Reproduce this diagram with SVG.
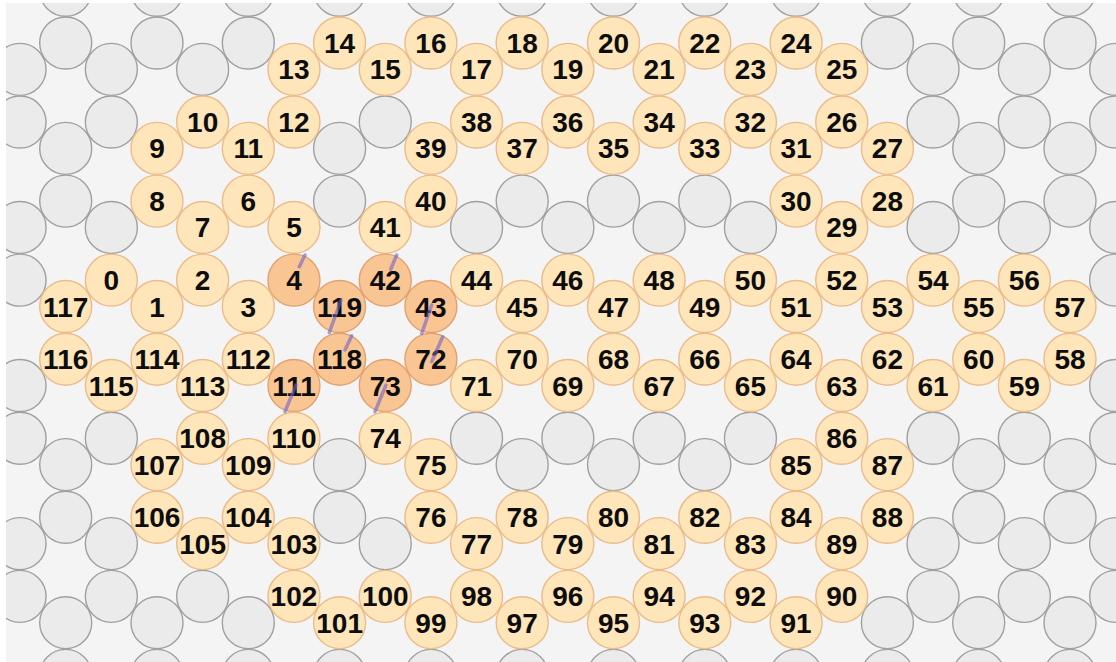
<svg xmlns="http://www.w3.org/2000/svg" width="1116" height="662" viewBox="0 0 1116 662">
<style>
.g{fill:#ebebeb;stroke:#a0a0a0;stroke-width:1.4}
.node circle{fill:#fee6ba;stroke:#ebbb8a;stroke-width:1.4}
.node.hl circle{fill:#f9c592;stroke:#e0a272}
.node text{font-family:"Liberation Sans",Arial,sans-serif;font-weight:bold;font-size:28px;fill:#0d0d0d;text-anchor:middle}
.bond{stroke:#6e62c8;stroke-opacity:0.6;stroke-width:3.5;stroke-linecap:round}
</style>
<defs>
<clipPath id="clip"><rect x="6" y="3" width="1110" height="659"/></clipPath>
</defs>
<rect width="1116" height="662" fill="#ffffff"/>
<g clip-path="url(#clip)">
<rect x="6" y="3" width="1110" height="659" fill="#f4f4f5"/>
<g id="lattice">
<circle class="g" cx="20.05" cy="69.35" r="26"/><circle class="g" cx="20.05" cy="122.05" r="26"/><circle class="g" cx="20.05" cy="227.45" r="26"/><circle class="g" cx="20.05" cy="280.15" r="26"/><circle class="g" cx="20.05" cy="385.55" r="26"/><circle class="g" cx="20.05" cy="438.25" r="26"/><circle class="g" cx="20.05" cy="543.65" r="26"/><circle class="g" cx="20.05" cy="596.35" r="26"/>
<circle class="g" cx="65.7" cy="-9.7" r="26"/><circle class="g" cx="65.7" cy="43" r="26"/><circle class="g" cx="65.7" cy="148.4" r="26"/><circle class="g" cx="65.7" cy="201.1" r="26"/><circle class="g" cx="65.7" cy="464.6" r="26"/><circle class="g" cx="65.7" cy="517.3" r="26"/><circle class="g" cx="65.7" cy="622.7" r="26"/><circle class="g" cx="65.7" cy="675.4" r="26"/>
<circle class="g" cx="111.35" cy="69.35" r="26"/><circle class="g" cx="111.35" cy="122.05" r="26"/><circle class="g" cx="111.35" cy="227.45" r="26"/><circle class="g" cx="111.35" cy="438.25" r="26"/><circle class="g" cx="111.35" cy="543.65" r="26"/><circle class="g" cx="111.35" cy="596.35" r="26"/>
<circle class="g" cx="157" cy="-9.7" r="26"/><circle class="g" cx="157" cy="43" r="26"/><circle class="g" cx="157" cy="622.7" r="26"/><circle class="g" cx="157" cy="675.4" r="26"/>
<circle class="g" cx="202.65" cy="69.35" r="26"/><circle class="g" cx="202.65" cy="596.35" r="26"/>
<circle class="g" cx="248.3" cy="-9.7" r="26"/><circle class="g" cx="248.3" cy="43" r="26"/><circle class="g" cx="248.3" cy="622.7" r="26"/><circle class="g" cx="248.3" cy="675.4" r="26"/>
<circle class="g" cx="339.6" cy="-9.7" r="26"/><circle class="g" cx="339.6" cy="148.4" r="26"/><circle class="g" cx="339.6" cy="201.1" r="26"/><circle class="g" cx="339.6" cy="464.6" r="26"/><circle class="g" cx="339.6" cy="517.3" r="26"/><circle class="g" cx="339.6" cy="675.4" r="26"/>
<circle class="g" cx="385.25" cy="122.05" r="26"/><circle class="g" cx="385.25" cy="543.65" r="26"/>
<circle class="g" cx="430.9" cy="-9.7" r="26"/><circle class="g" cx="430.9" cy="675.4" r="26"/>
<circle class="g" cx="476.55" cy="227.45" r="26"/><circle class="g" cx="476.55" cy="438.25" r="26"/>
<circle class="g" cx="522.2" cy="-9.7" r="26"/><circle class="g" cx="522.2" cy="201.1" r="26"/><circle class="g" cx="522.2" cy="464.6" r="26"/><circle class="g" cx="522.2" cy="675.4" r="26"/>
<circle class="g" cx="567.85" cy="227.45" r="26"/><circle class="g" cx="567.85" cy="438.25" r="26"/>
<circle class="g" cx="613.5" cy="-9.7" r="26"/><circle class="g" cx="613.5" cy="201.1" r="26"/><circle class="g" cx="613.5" cy="464.6" r="26"/><circle class="g" cx="613.5" cy="675.4" r="26"/>
<circle class="g" cx="659.15" cy="227.45" r="26"/><circle class="g" cx="659.15" cy="438.25" r="26"/>
<circle class="g" cx="704.8" cy="-9.7" r="26"/><circle class="g" cx="704.8" cy="201.1" r="26"/><circle class="g" cx="704.8" cy="464.6" r="26"/><circle class="g" cx="704.8" cy="675.4" r="26"/>
<circle class="g" cx="750.45" cy="227.45" r="26"/><circle class="g" cx="750.45" cy="438.25" r="26"/>
<circle class="g" cx="796.1" cy="-9.7" r="26"/><circle class="g" cx="796.1" cy="675.4" r="26"/>
<circle class="g" cx="887.4" cy="-9.7" r="26"/><circle class="g" cx="887.4" cy="43" r="26"/><circle class="g" cx="887.4" cy="622.7" r="26"/><circle class="g" cx="887.4" cy="675.4" r="26"/>
<circle class="g" cx="933.05" cy="69.35" r="26"/><circle class="g" cx="933.05" cy="122.05" r="26"/><circle class="g" cx="933.05" cy="227.45" r="26"/><circle class="g" cx="933.05" cy="438.25" r="26"/><circle class="g" cx="933.05" cy="543.65" r="26"/><circle class="g" cx="933.05" cy="596.35" r="26"/>
<circle class="g" cx="978.7" cy="-9.7" r="26"/><circle class="g" cx="978.7" cy="43" r="26"/><circle class="g" cx="978.7" cy="148.4" r="26"/><circle class="g" cx="978.7" cy="201.1" r="26"/><circle class="g" cx="978.7" cy="464.6" r="26"/><circle class="g" cx="978.7" cy="517.3" r="26"/><circle class="g" cx="978.7" cy="622.7" r="26"/><circle class="g" cx="978.7" cy="675.4" r="26"/>
<circle class="g" cx="1024.35" cy="69.35" r="26"/><circle class="g" cx="1024.35" cy="122.05" r="26"/><circle class="g" cx="1024.35" cy="227.45" r="26"/><circle class="g" cx="1024.35" cy="438.25" r="26"/><circle class="g" cx="1024.35" cy="543.65" r="26"/><circle class="g" cx="1024.35" cy="596.35" r="26"/>
<circle class="g" cx="1070" cy="-9.7" r="26"/><circle class="g" cx="1070" cy="43" r="26"/><circle class="g" cx="1070" cy="148.4" r="26"/><circle class="g" cx="1070" cy="201.1" r="26"/><circle class="g" cx="1070" cy="464.6" r="26"/><circle class="g" cx="1070" cy="517.3" r="26"/><circle class="g" cx="1070" cy="622.7" r="26"/><circle class="g" cx="1070" cy="675.4" r="26"/>
<circle class="g" cx="1115.65" cy="69.35" r="26"/><circle class="g" cx="1115.65" cy="122.05" r="26"/><circle class="g" cx="1115.65" cy="227.45" r="26"/><circle class="g" cx="1115.65" cy="280.15" r="26"/><circle class="g" cx="1115.65" cy="385.55" r="26"/><circle class="g" cx="1115.65" cy="438.25" r="26"/><circle class="g" cx="1115.65" cy="543.65" r="26"/><circle class="g" cx="1115.65" cy="596.35" r="26"/>
</g>
<g id="nodes">
<g id="n14" class="node"><circle cx="339.6" cy="43" r="26"/><text x="339.6" y="53">14</text></g>
<g id="n16" class="node"><circle cx="430.9" cy="43" r="26"/><text x="430.9" y="53">16</text></g>
<g id="n18" class="node"><circle cx="522.2" cy="43" r="26"/><text x="522.2" y="53">18</text></g>
<g id="n20" class="node"><circle cx="613.5" cy="43" r="26"/><text x="613.5" y="53">20</text></g>
<g id="n22" class="node"><circle cx="704.8" cy="43" r="26"/><text x="704.8" y="53">22</text></g>
<g id="n24" class="node"><circle cx="796.1" cy="43" r="26"/><text x="796.1" y="53">24</text></g>
<g id="n13" class="node"><circle cx="293.95" cy="69.35" r="26"/><text x="293.95" y="79.35">13</text></g>
<g id="n15" class="node"><circle cx="385.25" cy="69.35" r="26"/><text x="385.25" y="79.35">15</text></g>
<g id="n17" class="node"><circle cx="476.55" cy="69.35" r="26"/><text x="476.55" y="79.35">17</text></g>
<g id="n19" class="node"><circle cx="567.85" cy="69.35" r="26"/><text x="567.85" y="79.35">19</text></g>
<g id="n21" class="node"><circle cx="659.15" cy="69.35" r="26"/><text x="659.15" y="79.35">21</text></g>
<g id="n23" class="node"><circle cx="750.45" cy="69.35" r="26"/><text x="750.45" y="79.35">23</text></g>
<g id="n25" class="node"><circle cx="841.75" cy="69.35" r="26"/><text x="841.75" y="79.35">25</text></g>
<g id="n10" class="node"><circle cx="202.65" cy="122.05" r="26"/><text x="202.65" y="132.05">10</text></g>
<g id="n12" class="node"><circle cx="293.95" cy="122.05" r="26"/><text x="293.95" y="132.05">12</text></g>
<g id="n38" class="node"><circle cx="476.55" cy="122.05" r="26"/><text x="476.55" y="132.05">38</text></g>
<g id="n36" class="node"><circle cx="567.85" cy="122.05" r="26"/><text x="567.85" y="132.05">36</text></g>
<g id="n34" class="node"><circle cx="659.15" cy="122.05" r="26"/><text x="659.15" y="132.05">34</text></g>
<g id="n32" class="node"><circle cx="750.45" cy="122.05" r="26"/><text x="750.45" y="132.05">32</text></g>
<g id="n26" class="node"><circle cx="841.75" cy="122.05" r="26"/><text x="841.75" y="132.05">26</text></g>
<g id="n9" class="node"><circle cx="157" cy="148.4" r="26"/><text x="157" y="158.4">9</text></g>
<g id="n11" class="node"><circle cx="248.3" cy="148.4" r="26"/><text x="248.3" y="158.4">11</text></g>
<g id="n39" class="node"><circle cx="430.9" cy="148.4" r="26"/><text x="430.9" y="158.4">39</text></g>
<g id="n37" class="node"><circle cx="522.2" cy="148.4" r="26"/><text x="522.2" y="158.4">37</text></g>
<g id="n35" class="node"><circle cx="613.5" cy="148.4" r="26"/><text x="613.5" y="158.4">35</text></g>
<g id="n33" class="node"><circle cx="704.8" cy="148.4" r="26"/><text x="704.8" y="158.4">33</text></g>
<g id="n31" class="node"><circle cx="796.1" cy="148.4" r="26"/><text x="796.1" y="158.4">31</text></g>
<g id="n27" class="node"><circle cx="887.4" cy="148.4" r="26"/><text x="887.4" y="158.4">27</text></g>
<g id="n8" class="node"><circle cx="157" cy="201.1" r="26"/><text x="157" y="211.1">8</text></g>
<g id="n6" class="node"><circle cx="248.3" cy="201.1" r="26"/><text x="248.3" y="211.1">6</text></g>
<g id="n40" class="node"><circle cx="430.9" cy="201.1" r="26"/><text x="430.9" y="211.1">40</text></g>
<g id="n30" class="node"><circle cx="796.1" cy="201.1" r="26"/><text x="796.1" y="211.1">30</text></g>
<g id="n28" class="node"><circle cx="887.4" cy="201.1" r="26"/><text x="887.4" y="211.1">28</text></g>
<g id="n7" class="node"><circle cx="202.65" cy="227.45" r="26"/><text x="202.65" y="237.45">7</text></g>
<g id="n5" class="node"><circle cx="293.95" cy="227.45" r="26"/><text x="293.95" y="237.45">5</text></g>
<g id="n41" class="node"><circle cx="385.25" cy="227.45" r="26"/><text x="385.25" y="237.45">41</text></g>
<g id="n29" class="node"><circle cx="841.75" cy="227.45" r="26"/><text x="841.75" y="237.45">29</text></g>
<g id="n0" class="node"><circle cx="111.35" cy="280.15" r="26"/><text x="111.35" y="290.15">0</text></g>
<g id="n2" class="node"><circle cx="202.65" cy="280.15" r="26"/><text x="202.65" y="290.15">2</text></g>
<g id="n4" class="node hl"><circle cx="293.95" cy="280.15" r="26"/><text x="293.95" y="290.15">4</text></g>
<g id="n42" class="node hl"><circle cx="385.25" cy="280.15" r="26"/><text x="385.25" y="290.15">42</text></g>
<g id="n44" class="node"><circle cx="476.55" cy="280.15" r="26"/><text x="476.55" y="290.15">44</text></g>
<g id="n46" class="node"><circle cx="567.85" cy="280.15" r="26"/><text x="567.85" y="290.15">46</text></g>
<g id="n48" class="node"><circle cx="659.15" cy="280.15" r="26"/><text x="659.15" y="290.15">48</text></g>
<g id="n50" class="node"><circle cx="750.45" cy="280.15" r="26"/><text x="750.45" y="290.15">50</text></g>
<g id="n52" class="node"><circle cx="841.75" cy="280.15" r="26"/><text x="841.75" y="290.15">52</text></g>
<g id="n54" class="node"><circle cx="933.05" cy="280.15" r="26"/><text x="933.05" y="290.15">54</text></g>
<g id="n56" class="node"><circle cx="1024.35" cy="280.15" r="26"/><text x="1024.35" y="290.15">56</text></g>
<g id="n117" class="node"><circle cx="65.7" cy="306.5" r="26"/><text x="65.7" y="316.5">117</text></g>
<g id="n1" class="node"><circle cx="157" cy="306.5" r="26"/><text x="157" y="316.5">1</text></g>
<g id="n3" class="node"><circle cx="248.3" cy="306.5" r="26"/><text x="248.3" y="316.5">3</text></g>
<g id="n119" class="node hl"><circle cx="339.6" cy="306.5" r="26"/><text x="339.6" y="316.5">119</text></g>
<g id="n43" class="node hl"><circle cx="430.9" cy="306.5" r="26"/><text x="430.9" y="316.5">43</text></g>
<g id="n45" class="node"><circle cx="522.2" cy="306.5" r="26"/><text x="522.2" y="316.5">45</text></g>
<g id="n47" class="node"><circle cx="613.5" cy="306.5" r="26"/><text x="613.5" y="316.5">47</text></g>
<g id="n49" class="node"><circle cx="704.8" cy="306.5" r="26"/><text x="704.8" y="316.5">49</text></g>
<g id="n51" class="node"><circle cx="796.1" cy="306.5" r="26"/><text x="796.1" y="316.5">51</text></g>
<g id="n53" class="node"><circle cx="887.4" cy="306.5" r="26"/><text x="887.4" y="316.5">53</text></g>
<g id="n55" class="node"><circle cx="978.7" cy="306.5" r="26"/><text x="978.7" y="316.5">55</text></g>
<g id="n57" class="node"><circle cx="1070" cy="306.5" r="26"/><text x="1070" y="316.5">57</text></g>
<g id="n116" class="node"><circle cx="65.7" cy="359.2" r="26"/><text x="65.7" y="369.2">116</text></g>
<g id="n114" class="node"><circle cx="157" cy="359.2" r="26"/><text x="157" y="369.2">114</text></g>
<g id="n112" class="node"><circle cx="248.3" cy="359.2" r="26"/><text x="248.3" y="369.2">112</text></g>
<g id="n118" class="node hl"><circle cx="339.6" cy="359.2" r="26"/><text x="339.6" y="369.2">118</text></g>
<g id="n72" class="node hl"><circle cx="430.9" cy="359.2" r="26"/><text x="430.9" y="369.2">72</text></g>
<g id="n70" class="node"><circle cx="522.2" cy="359.2" r="26"/><text x="522.2" y="369.2">70</text></g>
<g id="n68" class="node"><circle cx="613.5" cy="359.2" r="26"/><text x="613.5" y="369.2">68</text></g>
<g id="n66" class="node"><circle cx="704.8" cy="359.2" r="26"/><text x="704.8" y="369.2">66</text></g>
<g id="n64" class="node"><circle cx="796.1" cy="359.2" r="26"/><text x="796.1" y="369.2">64</text></g>
<g id="n62" class="node"><circle cx="887.4" cy="359.2" r="26"/><text x="887.4" y="369.2">62</text></g>
<g id="n60" class="node"><circle cx="978.7" cy="359.2" r="26"/><text x="978.7" y="369.2">60</text></g>
<g id="n58" class="node"><circle cx="1070" cy="359.2" r="26"/><text x="1070" y="369.2">58</text></g>
<g id="n115" class="node"><circle cx="111.35" cy="385.55" r="26"/><text x="111.35" y="395.55">115</text></g>
<g id="n113" class="node"><circle cx="202.65" cy="385.55" r="26"/><text x="202.65" y="395.55">113</text></g>
<g id="n111" class="node hl"><circle cx="293.95" cy="385.55" r="26"/><text x="293.95" y="395.55">111</text></g>
<g id="n73" class="node hl"><circle cx="385.25" cy="385.55" r="26"/><text x="385.25" y="395.55">73</text></g>
<g id="n71" class="node"><circle cx="476.55" cy="385.55" r="26"/><text x="476.55" y="395.55">71</text></g>
<g id="n69" class="node"><circle cx="567.85" cy="385.55" r="26"/><text x="567.85" y="395.55">69</text></g>
<g id="n67" class="node"><circle cx="659.15" cy="385.55" r="26"/><text x="659.15" y="395.55">67</text></g>
<g id="n65" class="node"><circle cx="750.45" cy="385.55" r="26"/><text x="750.45" y="395.55">65</text></g>
<g id="n63" class="node"><circle cx="841.75" cy="385.55" r="26"/><text x="841.75" y="395.55">63</text></g>
<g id="n61" class="node"><circle cx="933.05" cy="385.55" r="26"/><text x="933.05" y="395.55">61</text></g>
<g id="n59" class="node"><circle cx="1024.35" cy="385.55" r="26"/><text x="1024.35" y="395.55">59</text></g>
<g id="n108" class="node"><circle cx="202.65" cy="438.25" r="26"/><text x="202.65" y="448.25">108</text></g>
<g id="n110" class="node"><circle cx="293.95" cy="438.25" r="26"/><text x="293.95" y="448.25">110</text></g>
<g id="n74" class="node"><circle cx="385.25" cy="438.25" r="26"/><text x="385.25" y="448.25">74</text></g>
<g id="n86" class="node"><circle cx="841.75" cy="438.25" r="26"/><text x="841.75" y="448.25">86</text></g>
<g id="n107" class="node"><circle cx="157" cy="464.6" r="26"/><text x="157" y="474.6">107</text></g>
<g id="n109" class="node"><circle cx="248.3" cy="464.6" r="26"/><text x="248.3" y="474.6">109</text></g>
<g id="n75" class="node"><circle cx="430.9" cy="464.6" r="26"/><text x="430.9" y="474.6">75</text></g>
<g id="n85" class="node"><circle cx="796.1" cy="464.6" r="26"/><text x="796.1" y="474.6">85</text></g>
<g id="n87" class="node"><circle cx="887.4" cy="464.6" r="26"/><text x="887.4" y="474.6">87</text></g>
<g id="n106" class="node"><circle cx="157" cy="517.3" r="26"/><text x="157" y="527.3">106</text></g>
<g id="n104" class="node"><circle cx="248.3" cy="517.3" r="26"/><text x="248.3" y="527.3">104</text></g>
<g id="n76" class="node"><circle cx="430.9" cy="517.3" r="26"/><text x="430.9" y="527.3">76</text></g>
<g id="n78" class="node"><circle cx="522.2" cy="517.3" r="26"/><text x="522.2" y="527.3">78</text></g>
<g id="n80" class="node"><circle cx="613.5" cy="517.3" r="26"/><text x="613.5" y="527.3">80</text></g>
<g id="n82" class="node"><circle cx="704.8" cy="517.3" r="26"/><text x="704.8" y="527.3">82</text></g>
<g id="n84" class="node"><circle cx="796.1" cy="517.3" r="26"/><text x="796.1" y="527.3">84</text></g>
<g id="n88" class="node"><circle cx="887.4" cy="517.3" r="26"/><text x="887.4" y="527.3">88</text></g>
<g id="n105" class="node"><circle cx="202.65" cy="543.65" r="26"/><text x="202.65" y="553.65">105</text></g>
<g id="n103" class="node"><circle cx="293.95" cy="543.65" r="26"/><text x="293.95" y="553.65">103</text></g>
<g id="n77" class="node"><circle cx="476.55" cy="543.65" r="26"/><text x="476.55" y="553.65">77</text></g>
<g id="n79" class="node"><circle cx="567.85" cy="543.65" r="26"/><text x="567.85" y="553.65">79</text></g>
<g id="n81" class="node"><circle cx="659.15" cy="543.65" r="26"/><text x="659.15" y="553.65">81</text></g>
<g id="n83" class="node"><circle cx="750.45" cy="543.65" r="26"/><text x="750.45" y="553.65">83</text></g>
<g id="n89" class="node"><circle cx="841.75" cy="543.65" r="26"/><text x="841.75" y="553.65">89</text></g>
<g id="n102" class="node"><circle cx="293.95" cy="596.35" r="26"/><text x="293.95" y="606.35">102</text></g>
<g id="n100" class="node"><circle cx="385.25" cy="596.35" r="26"/><text x="385.25" y="606.35">100</text></g>
<g id="n98" class="node"><circle cx="476.55" cy="596.35" r="26"/><text x="476.55" y="606.35">98</text></g>
<g id="n96" class="node"><circle cx="567.85" cy="596.35" r="26"/><text x="567.85" y="606.35">96</text></g>
<g id="n94" class="node"><circle cx="659.15" cy="596.35" r="26"/><text x="659.15" y="606.35">94</text></g>
<g id="n92" class="node"><circle cx="750.45" cy="596.35" r="26"/><text x="750.45" y="606.35">92</text></g>
<g id="n90" class="node"><circle cx="841.75" cy="596.35" r="26"/><text x="841.75" y="606.35">90</text></g>
<g id="n101" class="node"><circle cx="339.6" cy="622.7" r="26"/><text x="339.6" y="632.7">101</text></g>
<g id="n99" class="node"><circle cx="430.9" cy="622.7" r="26"/><text x="430.9" y="632.7">99</text></g>
<g id="n97" class="node"><circle cx="522.2" cy="622.7" r="26"/><text x="522.2" y="632.7">97</text></g>
<g id="n95" class="node"><circle cx="613.5" cy="622.7" r="26"/><text x="613.5" y="632.7">95</text></g>
<g id="n93" class="node"><circle cx="704.8" cy="622.7" r="26"/><text x="704.8" y="632.7">93</text></g>
<g id="n91" class="node"><circle cx="796.1" cy="622.7" r="26"/><text x="796.1" y="632.7">91</text></g>
</g>
<g id="connectors">
<line class="bond" x1="305" y1="255" x2="299.3" y2="266.7"/>
<line class="bond" x1="396.7" y1="255" x2="390.7" y2="269.3"/>
<line class="bond" x1="341" y1="300" x2="329.3" y2="332.7"/>
<line class="bond" x1="351.7" y1="335.7" x2="345" y2="350"/>
<line class="bond" x1="431.7" y1="305" x2="421.7" y2="333.3"/>
<line class="bond" x1="442.7" y1="336.7" x2="431.7" y2="361.7"/>
<line class="bond" x1="296" y1="385" x2="285" y2="411.7"/>
<line class="bond" x1="386" y1="385" x2="375" y2="411.7"/>
</g>
</g>
</svg>
